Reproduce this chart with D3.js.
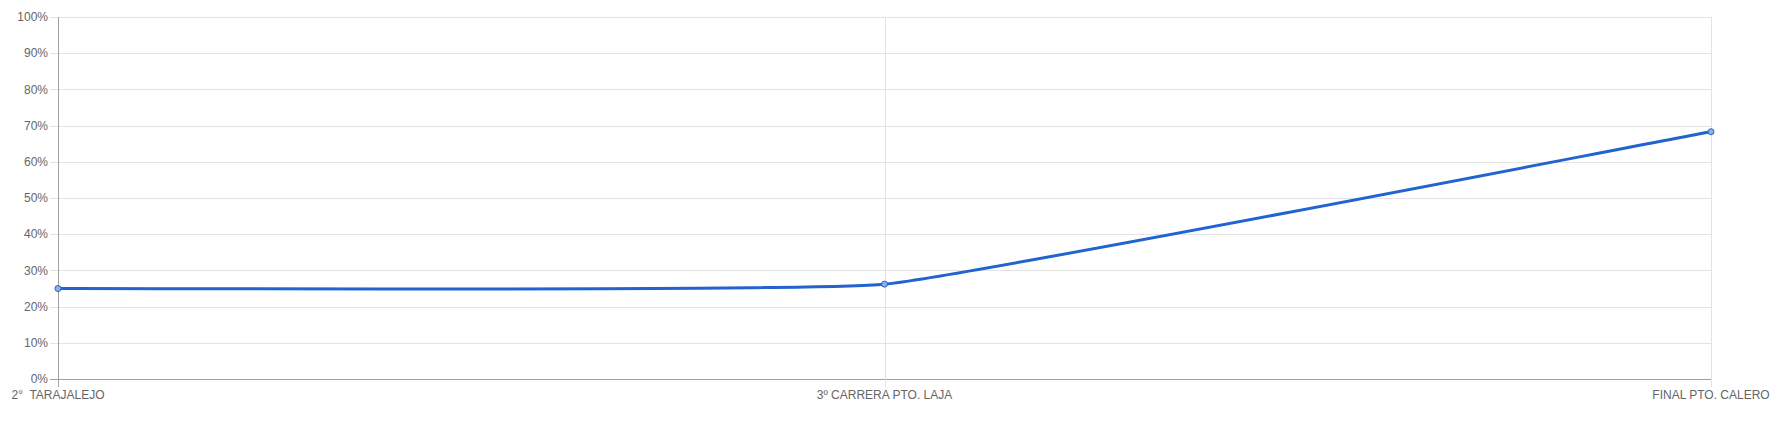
<!DOCTYPE html>
<html><head><meta charset="utf-8">
<script src="https://cdn.jsdelivr.net/npm/d3@7"></script>
<style>body{margin:0;background:#fff}svg{display:block}text{font-family:"Liberation Sans",Arial,sans-serif}</style>
</head><body>
<svg id="c" width="1790" height="427"></svg>
<script>
const categories = ["2°  TARAJALEJO", "3º CARRERA PTO. LAJA", "FINAL PTO. CALERO"];
const values = [25, 26.2, 68.3];
const yTicks = [0,10,20,30,40,50,60,70,80,90,100];
const tension = 0.1;

const svg = d3.select("#c");
const L = 58, R = 1711, T = 17, B = 379;
const x = d3.scalePoint().domain(categories).range([L, R]);
const y = d3.scaleLinear().domain([0,100]).range([B, T]);
const g = svg.append("g");

g.selectAll(".hg").data(yTicks).join("line")
  .attr("x1", L-8).attr("x2", R).attr("y1", d=>Math.round(y(d))+0.5).attr("y2", d=>Math.round(y(d))+0.5)
  .attr("stroke", d=>d===0?"#a0a0a0":"#e3e3e3").attr("stroke-width",1);
g.selectAll(".vg").data(categories).join("line")
  .attr("x1", d=>Math.round(x(d))+0.5).attr("x2", d=>Math.round(x(d))+0.5).attr("y1", T).attr("y2", B+8)
  .attr("stroke", (d,i)=>i===0?"#a0a0a0":"#e3e3e3").attr("stroke-width",1);

g.selectAll(".yl").data(yTicks).join("text")
  .attr("x", L-10).attr("y", d=>y(d)).attr("dy","0.35em").attr("text-anchor","end")
  .attr("font-size",12).attr("fill","#666").text(d=>d+"%");
g.selectAll(".xl").data(categories).join("text")
  .attr("x", d=>x(d)).attr("y", 399).attr("text-anchor","middle")
  .attr("font-size",12).attr("fill","#666").style("white-space","pre").text(d=>d);

// Chart.js-style tension spline built from scaled points
const pts = values.map((v,i)=>({x:x(categories[i]), y:y(v)}));
const cps = pts.map((p,i)=>{
  const prev = pts[i-1] || p, next = pts[i+1] || p;
  const d01 = Math.hypot(p.x-prev.x, p.y-prev.y), d12 = Math.hypot(next.x-p.x, next.y-p.y);
  const s01 = (d01+d12) ? d01/(d01+d12) : 0, s12 = (d01+d12) ? d12/(d01+d12) : 0;
  const fa = tension*s01, fb = tension*s12;
  return {px: p.x - fa*(next.x-prev.x), py: p.y - fa*(next.y-prev.y),
          nx: p.x + fb*(next.x-prev.x), ny: p.y + fb*(next.y-prev.y)};
});
const path = d3.path();
path.moveTo(pts[0].x, pts[0].y);
for (let i=1;i<pts.length;i++){
  path.bezierCurveTo(cps[i-1].nx, cps[i-1].ny, cps[i].px, cps[i].py, pts[i].x, pts[i].y);
}
g.append("path").attr("d", path.toString()).attr("fill","none")
  .attr("stroke","#2163cf").attr("stroke-width",3);
g.selectAll(".pt").data(values).join("circle")
  .attr("cx",(d,i)=>x(categories[i])).attr("cy", d=>y(d)).attr("r",3)
  .attr("fill","#8fb0e6").attr("stroke","#2163cf").attr("stroke-width",1);
</script>
</body></html>
